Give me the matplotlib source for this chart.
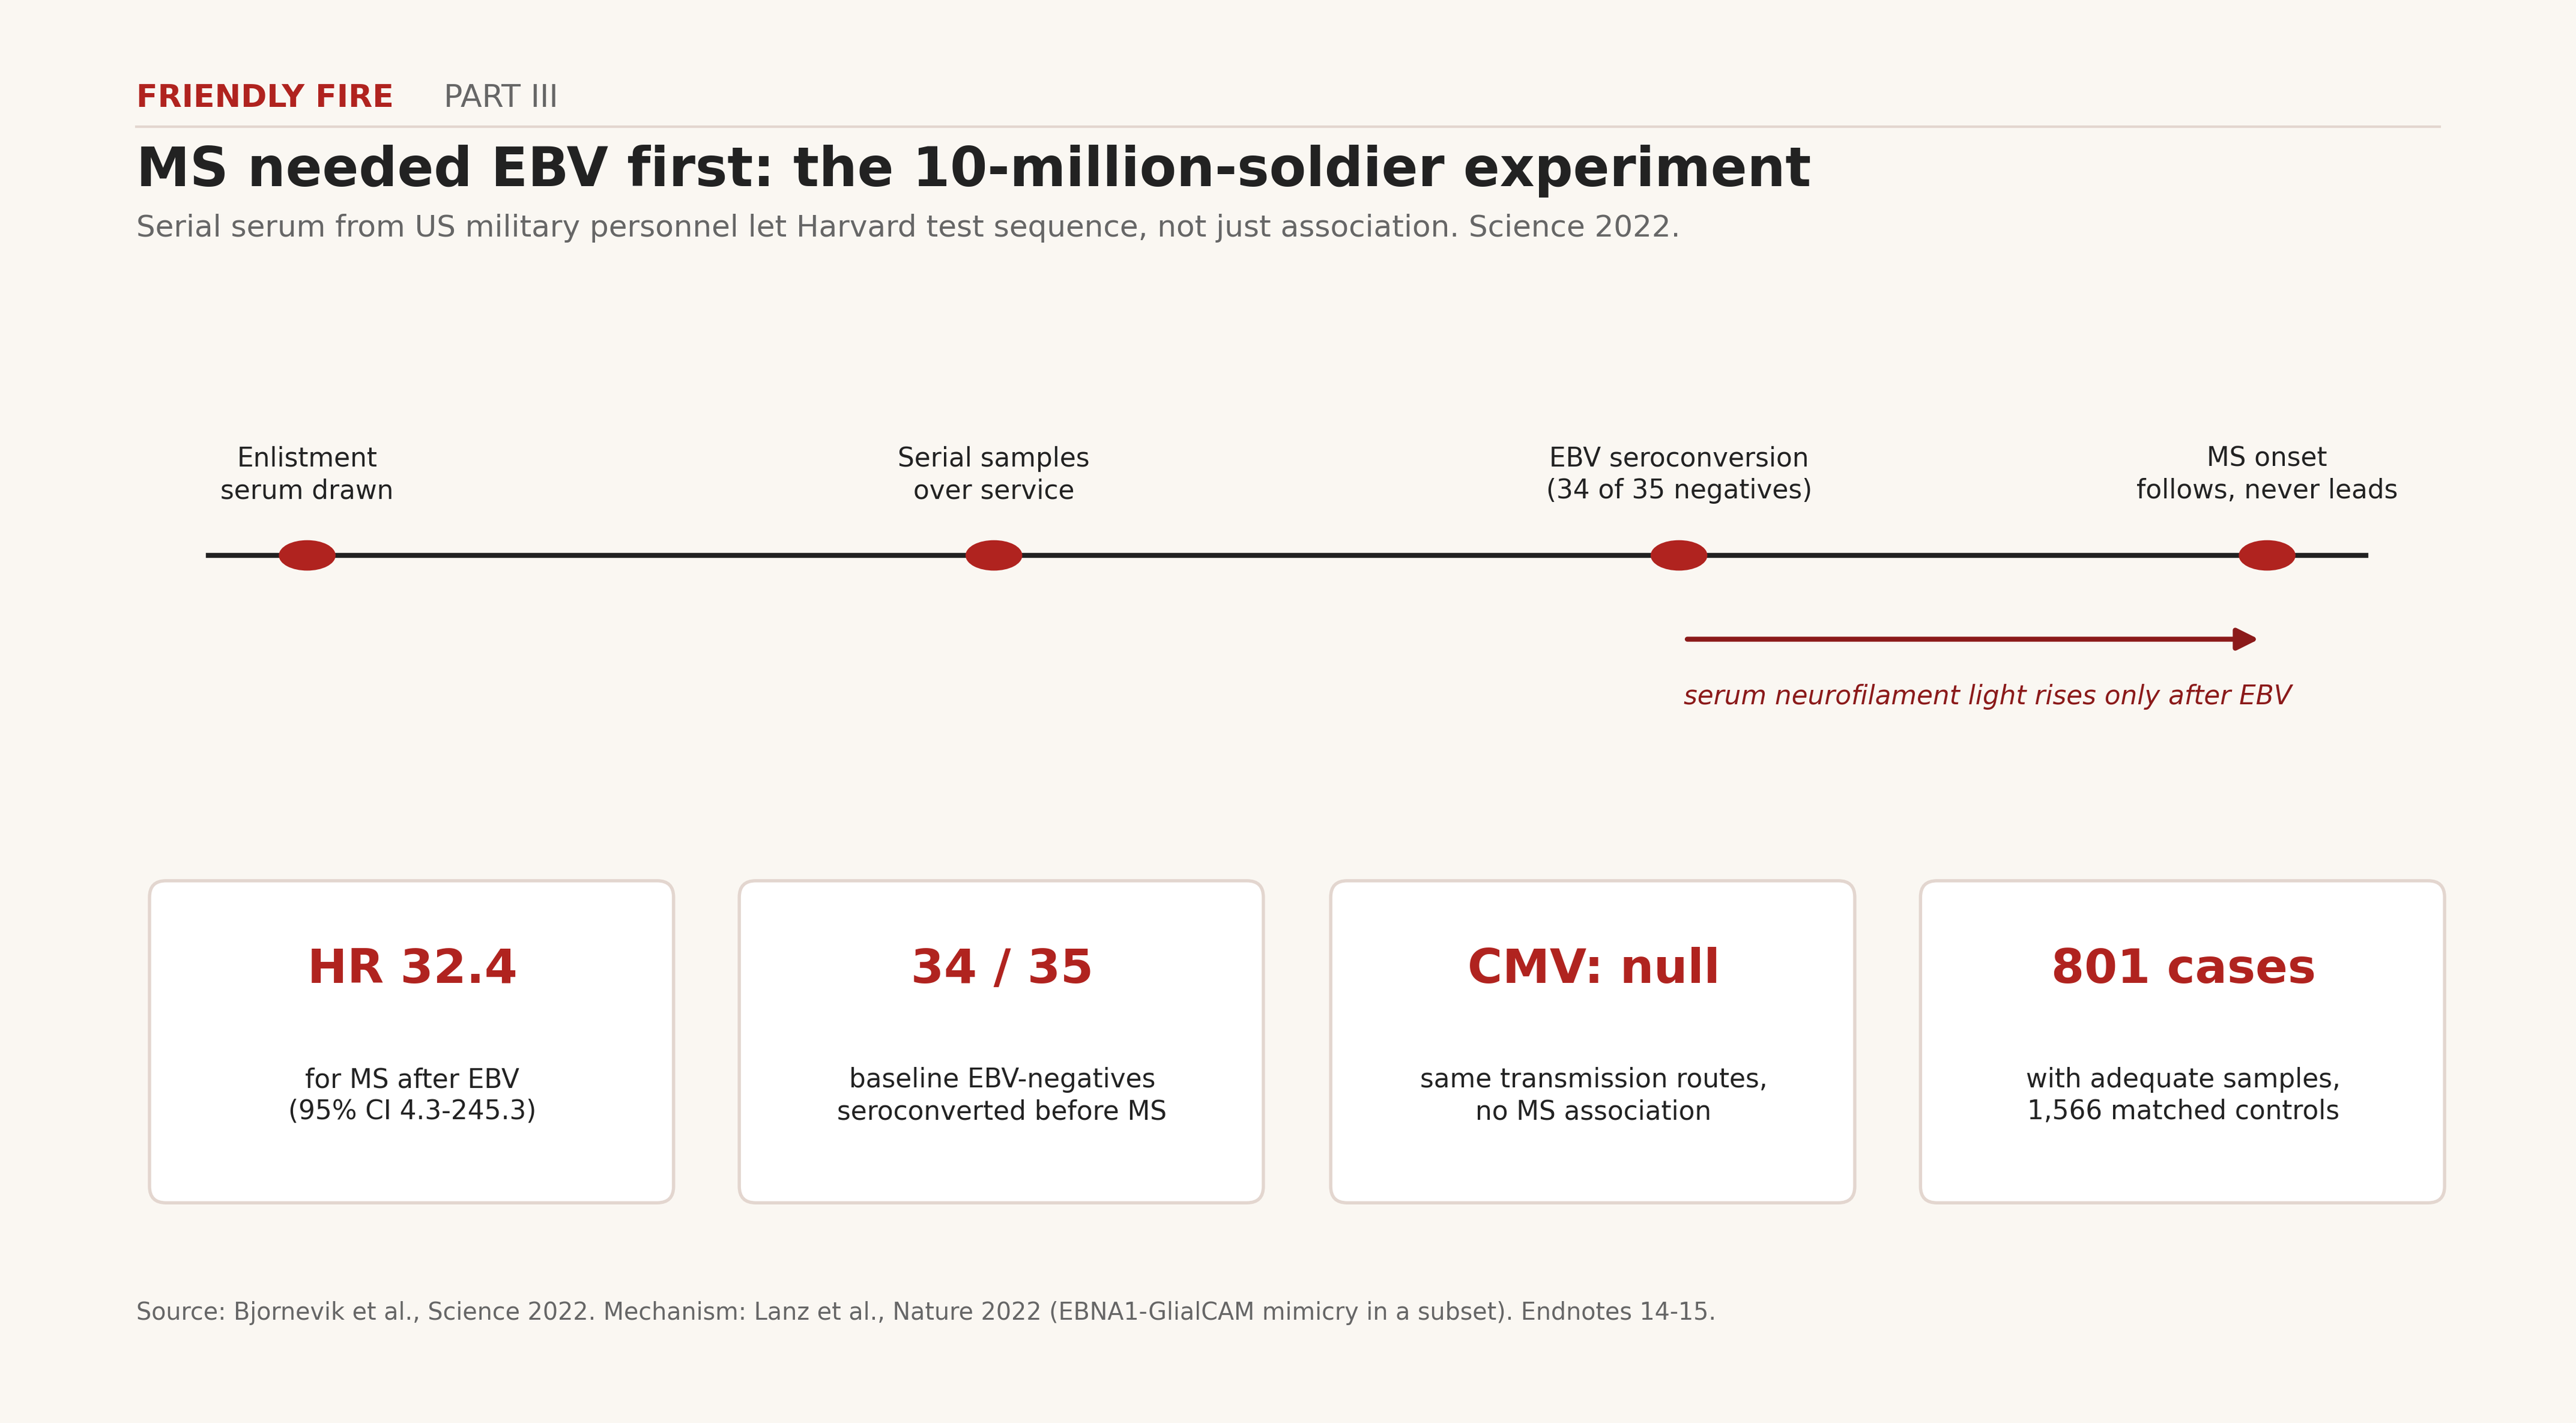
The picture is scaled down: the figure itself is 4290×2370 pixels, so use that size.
import matplotlib.pyplot as plt
from matplotlib.patches import Ellipse, FancyBboxPatch

RED = '#b0231f'
DARK = '#222222'
GREY = '#666666'
BG = '#faf7f2'

# timeline data
step_labels = ['Enlistment\nserum drawn', 'Serial samples\nover service',
               'EBV seroconversion\n(34 of 35 negatives)', 'MS onset\nfollows, never leads']
step_pos = [187, 605, 1022, 1380]

# stat cards
card_values = ['HR 32.4', '34 / 35', 'CMV: null', '801 cases']
card_notes = ['for MS after EBV\n(95% CI 4.3-245.3)',
              'baseline EBV-negatives\nseroconverted before MS',
              'same transmission routes,\nno MS association',
              'with adequate samples,\n1,566 matched controls']
card_left = [91, 450, 810, 1169]

fig = plt.figure(figsize=(14.3, 7.9), dpi=300, facecolor=BG)
ax = fig.add_axes([0, 0, 1, 1])
ax.set_xlim(0, 1568)
ax.set_ylim(866, 0)
ax.axis('off')
ax.set_facecolor(BG)

ax.text(83, 60, 'FRIENDLY FIRE', color=RED, fontsize=12.5, fontweight='bold', va='center')
ax.text(270, 60, 'PART III', color=GREY, fontsize=12.5, va='center')
ax.plot([83, 1485], [77, 77], color='#e3d6cf', lw=1)
ax.text(83, 104, 'MS needed EBV first: the 10-million-soldier experiment',
        color=DARK, fontsize=21.5, fontweight='bold', va='center')
ax.text(83, 139, 'Serial serum from US military personnel let Harvard test sequence, not just association. Science 2022.',
        color=GREY, fontsize=12, va='center')

# timeline
ax.plot([127, 1440], [338, 338], color=DARK, lw=2, zorder=2)
for x, lab in zip(step_pos, step_labels):
    ax.add_patch(Ellipse((x, 338), 33, 17, color=RED, zorder=3))
    ax.text(x, 289, lab, ha='center', va='center', fontsize=10.5, color=DARK, linespacing=1.3)

ax.annotate('', xy=(1378, 389), xytext=(1024, 389),
            arrowprops=dict(arrowstyle='-|>', color='#8b1a1a', lw=2, mutation_scale=18))
ax.text(1025, 424, 'serum neurofilament light rises only after EBV', color='#8b1a1a',
        fontsize=10.5, style='italic', va='center')

# cards
for x, val, note in zip(card_left, card_values, card_notes):
    ax.add_patch(FancyBboxPatch((x, 536), 319, 196, boxstyle='round,pad=0,rounding_size=10',
                                facecolor='white', edgecolor='#e3d6cf', lw=1.3))
    ax.text(x + 160, 590, val, ha='center', va='center', color=RED, fontsize=19, fontweight='bold')
    ax.text(x + 160, 667, note, ha='center', va='center', color=DARK, fontsize=10.5, linespacing=1.3)

ax.text(83, 799, 'Source: Bjornevik et al., Science 2022. Mechanism: Lanz et al., Nature 2022 (EBNA1-GlialCAM mimicry in a subset). Endnotes 14-15.',
        color=GREY, fontsize=9.5, va='center')

fig.savefig('out.png', dpi=300, facecolor=BG)
